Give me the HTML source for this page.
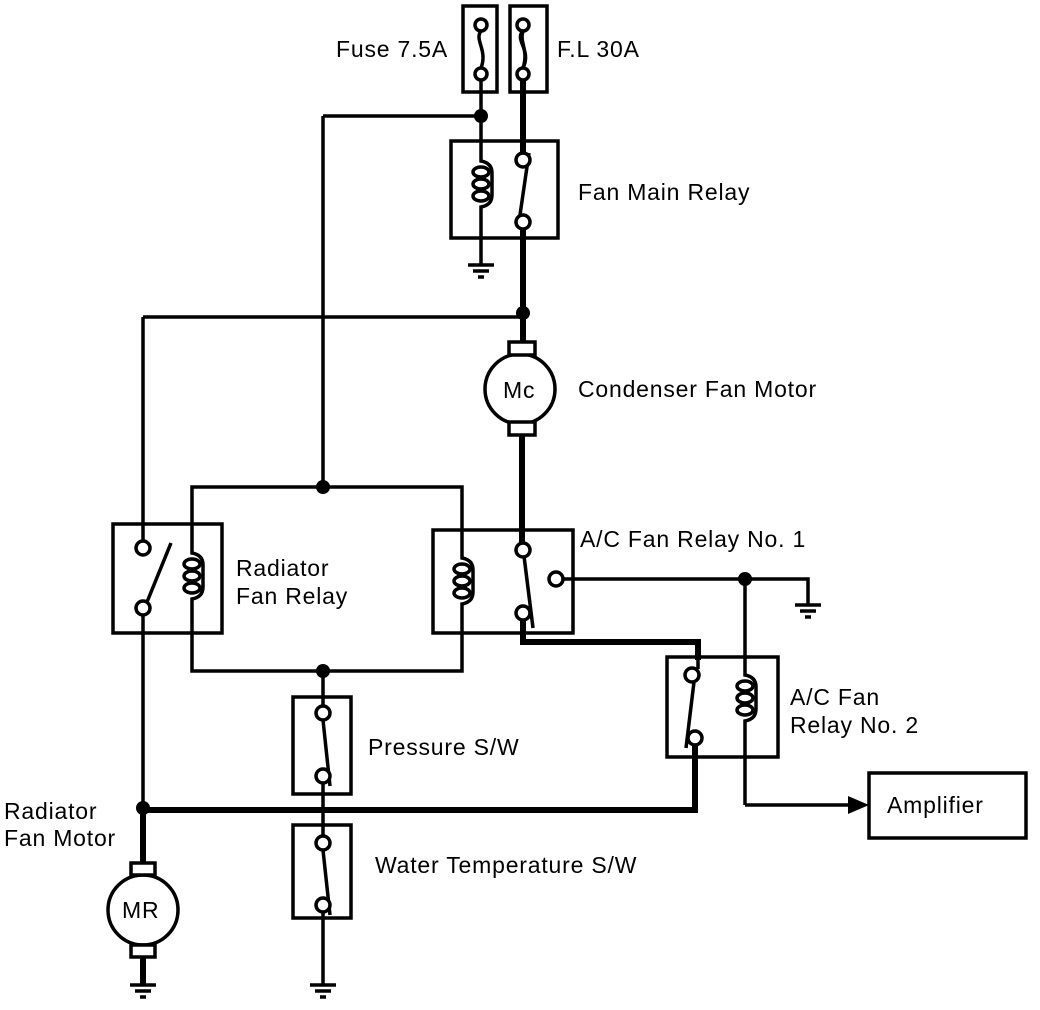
<!DOCTYPE html>
<html><head><meta charset="utf-8"><style>
html,body{margin:0;padding:0;background:#fff;}
svg{display:block;}
text{font-family:"Liberation Sans",sans-serif;font-size:23px;letter-spacing:0.8px;fill:#000;}
</style></head><body>
<svg width="1040" height="1010" viewBox="0 0 1040 1010" xmlns="http://www.w3.org/2000/svg">
<defs>
<g id="coil" fill="none" stroke="#000" stroke-width="3.5">
<path d="M0,0 V8 Q11,10 11,20 V42 Q11,52 0,54 V62"/>
<ellipse cx="0" cy="19" rx="8" ry="5"/>
<ellipse cx="0" cy="31" rx="8" ry="5"/>
<ellipse cx="0" cy="43" rx="8" ry="5"/>
</g>
<g id="gnd" stroke="#000" stroke-width="3.5">
<line x1="-13" y1="0" x2="13" y2="0"/>
<line x1="-8" y1="6" x2="8" y2="6"/>
<line x1="-3" y1="12" x2="3" y2="12"/>
</g>
</defs>
<g fill="none" stroke="#000" stroke-width="3.5">
<rect x="463" y="6" width="34" height="86"/>
<rect x="510" y="6" width="37" height="86"/>
<path d="M481,31 C474,40 488,50 481,68"/>
<path d="M523,31 C514,40 532,50 523,68"/>
<path d="M523,31 C519,42 529,50 523,68"/>
<rect x="451" y="141" width="107" height="97"/>
<line x1="481" y1="80" x2="481" y2="153"/>
<line x1="481" y1="215" x2="481" y2="265"/>
<line x1="323" y1="116" x2="481" y2="116"/>
<line x1="323" y1="116" x2="323" y2="487"/>
<line x1="529" y1="153" x2="520" y2="215"/>
<line x1="523" y1="80" x2="523" y2="153" stroke-width="6"/>
<line x1="523" y1="229" x2="523" y2="345" stroke-width="6"/>
<line x1="143" y1="317" x2="523" y2="317"/>
<line x1="143" y1="317" x2="143" y2="541"/>
<circle cx="520" cy="389" r="35"/>
<rect x="509" y="342" width="26" height="13" fill="#fff"/>
<rect x="509" y="422" width="26" height="13" fill="#fff"/>
<line x1="522" y1="435" x2="522" y2="543" stroke-width="6"/>
<polyline points="192,523 192,487 462,487 462,529"/>
<polyline points="192,633 192,671 462,671 462,633"/>
<line x1="323" y1="671" x2="323" y2="706"/>
<rect x="113" y="524" width="109" height="109"/>
<line x1="192" y1="523" x2="192" y2="545"/>
<line x1="192" y1="607" x2="192" y2="633"/>
<line x1="171" y1="543" x2="147" y2="602"/>
<line x1="143" y1="614" x2="143" y2="810"/>
<rect x="433" y="530" width="140" height="103"/>
<line x1="462" y1="529" x2="462" y2="550"/>
<line x1="462" y1="612" x2="462" y2="633"/>
<line x1="524" y1="556" x2="533" y2="628"/>
<polyline points="573,579 808,579 808,605"/>
<line x1="563" y1="579" x2="573" y2="579"/>
<polyline points="523,619 523,642 698,642 698,660" stroke-width="6"/>
<rect x="667" y="657" width="111" height="100"/>
<line x1="698" y1="660" x2="698" y2="669"/>
<line x1="694" y1="682" x2="686" y2="748"/>
<line x1="745" y1="579" x2="745" y2="667"/>
<line x1="745" y1="729" x2="745" y2="805"/>
<line x1="745" y1="805" x2="850" y2="805"/>
<polyline points="695,745 695,810 143,810" stroke-width="6"/>
<rect x="869" y="773" width="157" height="65"/>
<rect x="293" y="697" width="58" height="97"/>
<rect x="293" y="825" width="58" height="93"/>
<line x1="323" y1="720" x2="330" y2="786"/>
<line x1="323" y1="850" x2="330" y2="915"/>
<line x1="323" y1="782" x2="323" y2="836"/>
<line x1="323" y1="912" x2="323" y2="985"/>
<circle cx="143" cy="910" r="35"/>
<rect x="131" y="863" width="24" height="12" fill="#fff"/>
<rect x="131" y="945" width="24" height="12" fill="#fff"/>
<line x1="143" y1="810" x2="143" y2="863" stroke-width="6"/>
<line x1="143" y1="957" x2="143" y2="985" stroke-width="6"/>
</g>
<use href="#coil" x="481" y="153"/>
<use href="#coil" x="192" y="545"/>
<use href="#coil" x="462" y="550"/>
<use href="#coil" x="745" y="667"/>
<use href="#gnd" x="481" y="265"/>
<use href="#gnd" x="808" y="605"/>
<use href="#gnd" x="143" y="985"/>
<use href="#gnd" x="323" y="985"/>
<polygon points="848,796 869,805 848,814" fill="#000"/>
<g fill="#fff" stroke="#000" stroke-width="3.5">
<circle cx="481" cy="25" r="6"/><circle cx="481" cy="74" r="6"/>
<circle cx="523" cy="25" r="6"/><circle cx="523" cy="74" r="6"/>
<circle cx="523" cy="160" r="7"/><circle cx="523" cy="222" r="7"/>
<circle cx="143" cy="548" r="7"/><circle cx="143" cy="608" r="7"/>
<circle cx="523" cy="550" r="7"/><circle cx="523" cy="613" r="7"/><circle cx="556" cy="579" r="7"/>
<circle cx="692" cy="675" r="7"/><circle cx="695" cy="738" r="7"/>
<circle cx="323" cy="713" r="7"/><circle cx="323" cy="776" r="7"/>
<circle cx="323" cy="843" r="7"/><circle cx="323" cy="905" r="7"/>
</g>
<g fill="#000">
<circle cx="481" cy="116" r="7"/><circle cx="523" cy="313" r="7"/>
<circle cx="323" cy="487" r="7"/><circle cx="323" cy="671" r="7"/>
<circle cx="745" cy="579" r="7"/><circle cx="143" cy="808" r="7"/>
</g>
<text x="336" y="57">Fuse 7.5A</text>
<text x="557" y="57">F.L 30A</text>
<text x="578" y="200">Fan Main Relay</text>
<text x="503" y="398" font-size="21" letter-spacing="0">Mc</text>
<text x="578" y="397">Condenser Fan Motor</text>
<text x="580" y="547">A/C Fan Relay No. 1</text>
<text x="236" y="576">Radiator</text>
<text x="236" y="604">Fan Relay</text>
<text x="790" y="705">A/C Fan</text>
<text x="790" y="733">Relay No. 2</text>
<text x="368" y="755">Pressure S/W</text>
<text x="375" y="873">Water Temperature S/W</text>
<text x="4" y="819">Radiator</text>
<text x="4" y="846">Fan Motor</text>
<text x="122" y="918" font-size="20" letter-spacing="0">MR</text>
<text x="887" y="813">Amplifier</text>
</svg>
</body></html>
